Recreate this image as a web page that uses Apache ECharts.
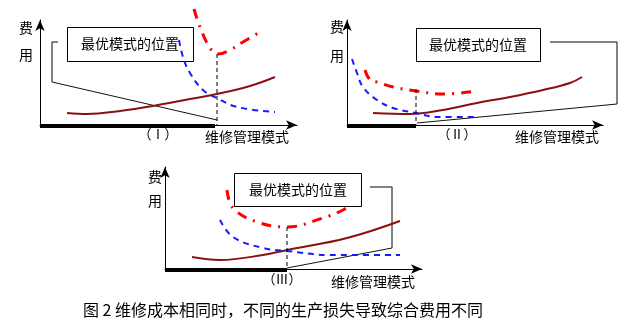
<!DOCTYPE html>
<html><head><meta charset="utf-8">
<script src="https://cdn.jsdelivr.net/npm/echarts@6/dist/echarts.min.js"></script>
<style>html,body{margin:0;padding:0;background:#fff}#c{width:628px;height:327px}</style>
</head><body><div id="c"></div>
<script>
// Schematic values (arbitrary cost units vs maintenance-mode units), per panel
const boxText = '最优模式的位置';
const yName = ['费', '用'];
const xName = '维修管理模式';
const panelLabels = ['（Ⅰ）', '（Ⅱ）', '（Ⅲ）'];
const caption = '图 2 维修成本相同时，不同的生产损失导致综合费用不同';

// Panel I
const p1Total = [[154,116],[160,98],[170,77],[178,71],[190,75],[203,83],[220,93]];
const p1Loss = [[139,85],[143,68],[150,52],[163,35],[177,27],[197,18],[235,13]];
const p1Maint = [[27,12],[47,11],[80,14],[113,19],[150,26],[177,31],[210,39],[235,48]];
const p1Other = [[12,43],[177,5]];
const p1Bracket = [[18,83],[12,83],[12,43]];
const p1Opt = [[177,71],[177,0]];
const p1Range = [[0,-1],[175,-1]];

// Panel II
const p2Total = [[18,55],[23,45],[30,43],[46,38],[69,34],[96,31],[130,34]];
const p2Loss = [[5,66],[10,52],[16,38],[30,25],[46,17],[69,12],[90,8],[130,8]];
const p2Maint = [[26,12],[63,11],[96,15],[130,22],[163,28],[196,35],[223,42],[235,48]];
const p2Other = [[70,2],[270,21]];
const p2Bracket = [[203,83],[270,83],[270,21]];
const p2Opt = [[69,36],[69,0]];
const p2Range = [[0,-1],[69,-1]];

// Panel III
const p3Total = [[62,79],[68,61],[92,47],[122,42],[158,51],[178,59],[185,64]];
const p3Loss = [[55,49],[68,32],[98,21],[122,18],[165,14],[235,14]];
const p3Maint = [[27,12],[55,9],[98,14],[122,19],[182,31],[235,48]];
const p3Other = [[122,1],[227,21]];
const p3Bracket = [[205,82],[227,82],[227,21]];
const p3Opt = [[122,42],[122,0]];
const p3Range = [[0,-1],[122,-1]];

const panels = [
  {total:p1Total, loss:p1Loss, maint:p1Maint, other:p1Other, bracket:p1Bracket, opt:p1Opt, range:p1Range},
  {total:p2Total, loss:p2Loss, maint:p2Maint, other:p2Other, bracket:p2Bracket, opt:p2Opt, range:p2Range},
  {total:p3Total, loss:p3Loss, maint:p3Maint, other:p3Other, bracket:p3Bracket, opt:p3Opt, range:p3Range}
];

const grids = [
  {left:40, top:20, width:257, height:105},
  {left:347, top:20, width:256, height:105},
  {left:165, top:167, width:257, height:102},
  // hidden overlay for panel II, wider so marks right of the axis arrow are not clamped
  {left:347, top:20, width:278, height:105}
];
// which grid hosts the "other" line and bracket of each panel
const extraGrid = [0, 3, 2];

const FONT = '"Noto Sans CJK SC", sans-serif';
const chart = echarts.init(document.getElementById('c'), null, {renderer:'canvas'});

const xAxis = [], yAxis = [], series = [];
const axisLine = {show:true, lineStyle:{color:'#000', width:1}, symbol:['none','arrow'], symbolSize:[7,11]};
grids.forEach((g, i) => {
  const show = i < 3;
  xAxis.push({type:'value', gridIndex:i, min:0, max:g.width, axisLine:show ? axisLine : {show:false}, axisTick:{show:false}, axisLabel:{show:false}, splitLine:{show:false}});
  yAxis.push({type:'value', gridIndex:i, min:0, max:g.height, axisLine:show ? axisLine : {show:false}, axisTick:{show:false}, axisLabel:{show:false}, splitLine:{show:false}});
});
panels.forEach((p, i) => {
  const base = {type:'line', xAxisIndex:i, yAxisIndex:i, showSymbol:false, symbol:'none', clip:false, silent:true, animation:false};
  const ex = extraGrid[i];
  const baseEx = Object.assign({}, base, {xAxisIndex:ex, yAxisIndex:ex});
  series.push(Object.assign({}, base, {data:p.range, lineStyle:{color:'#000', width:4}}));
  series.push(Object.assign({}, baseEx, {data:p.bracket, lineStyle:{color:'#5a5a5a', width:1.5}}));
  series.push(Object.assign({}, baseEx, {data:p.other, lineStyle:{color:'#111', width:1}}));
  series.push(Object.assign({}, base, {data:p.maint, smooth:0.4, lineStyle:{color:'#8b1111', width:2}}));
  series.push(Object.assign({}, base, {data:p.loss, smooth:0.4, lineStyle:{color:'#1a1aff', width:2, type:[6,5]}}));
  series.push(Object.assign({}, base, {data:p.total, smooth:0.4, lineStyle:{color:'#ff0000', width:3, type:[10,7,2,7]}}));
  series.push(Object.assign({}, base, {data:p.opt, lineStyle:{color:'#000', width:1, type:[4,3]}}));
});

function txt(x, y, s, size) {
  return {type:'text', x:x, y:y, style:{text:s, font:(size||14)+'px '+FONT, fill:'#000', align:'center', verticalAlign:'middle'}, silent:true};
}
function box(x, y, w, h) {
  return {type:'rect', shape:{x:x, y:y, width:w, height:h}, style:{fill:'#fff', stroke:'#000', lineWidth:1}, silent:true};
}

const graphic = [
  box(67.5, 27.5, 126, 34), txt(130, 44, boxText),
  box(416.5, 28.5, 124, 33), txt(478, 45, boxText),
  box(234.5, 173.5, 127, 33), txt(298, 190, boxText),
  txt(26, 28, yName[0]), txt(26, 55, yName[1]),
  txt(337, 27, yName[0]), txt(337, 56, yName[1]),
  txt(155, 177, yName[0]), txt(155, 201, yName[1]),
  txt(247, 137, xName), txt(557, 137, xName), txt(373, 282, xName),
  txt(158, 134, panelLabels[0], 13), txt(457, 134, panelLabels[1], 13), txt(282, 279, panelLabels[2], 13),
  txt(283, 310, caption, 16)
];

chart.setOption({animation:false, grid:grids, xAxis:xAxis, yAxis:yAxis, series:series, graphic:graphic});
</script>
</body></html>
